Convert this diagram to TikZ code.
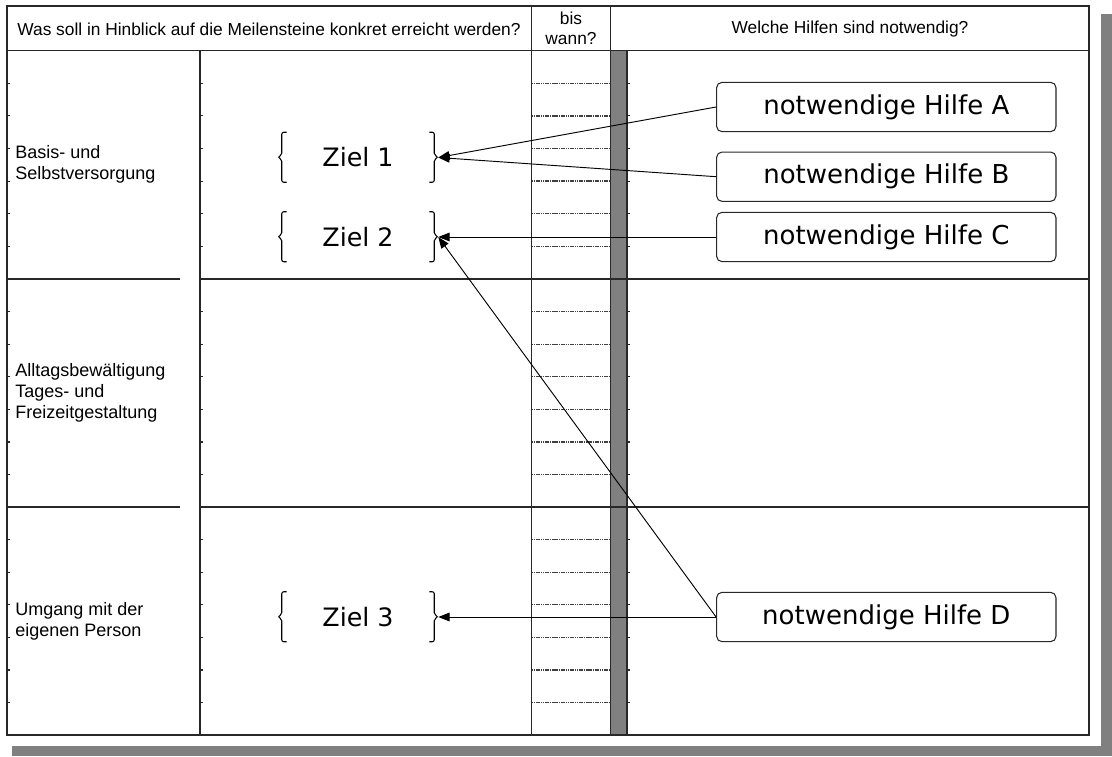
\documentclass[tikz,border=0pt]{standalone}
\usepackage{fontspec}
\setmainfont{Liberation Sans}
\newfontfamily\verdanalike{DejaVu Sans}
\usetikzlibrary{arrows.meta,calc}
\definecolor{shadowgray}{RGB}{128,128,128}
\definecolor{rulegray}{RGB}{40,40,40}

% curly braces on both sides of a goal node
\newcommand\goalbraces[1]{%
  \draw[bracepen] ($(#1.north west)+(9,0)$) -- ++(-5,0) -- ++(0,23) -- ++(-4,2) -- ++(4,2) -- ++(0,23) -- ++(5,0);
  \draw[bracepen] ($(#1.north east)+(-9,0)$) -- ++(5,0) -- ++(0,23) -- ++(4,2) -- ++(-4,2) -- ++(0,23) -- ++(-5,0);}

\begin{document}
\begin{tikzpicture}[x=0.75pt,y=-0.75pt,
  frame/.style={draw=rulegray,line width=0.9pt},
  rowrule/.style={draw=black!75,line width=1pt,dash pattern=on 1.2pt off 0.5pt},
  tick/.style={draw=rulegray,line width=0.8pt},
  hdr/.style={font=\fontsize{13}{15}\selectfont,inner sep=0,align=center},
  area/.style={font=\fontsize{13.5}{15.75}\selectfont,inner sep=0,align=left,anchor=west},
  goal/.style={font=\verdanalike\fontsize{19}{22}\selectfont,inner sep=0,minimum width=120pt,minimum height=37.5pt},
  hilfe/.style={draw=rulegray,line width=0.8pt,rounded corners=4pt,font=\verdanalike\fontsize{19.5}{22}\selectfont,inner sep=0,minimum width=254.5pt,minimum height=37pt},
  bracepen/.style={draw=black,line width=0.8pt,rounded corners=1.5pt},
  link/.style={draw=black,line width=0.7pt,-{Triangle[length=8.5pt,width=6.5pt]}}]

\path[use as bounding box] (0,0) rectangle (1112,756);
\fill[white] (0,0) rectangle (1112,756);
% drop shadow of the sheet
\fill[shadowgray] (12,14) rectangle (1112,756);
\fill[white] (0,0) rectangle (1101,746);

% timeline bar
\fill[shadowgray] (610.5,50.7) rectangle (627,735);

% table frame and columns
\draw[frame] (7,6) rectangle (1089,735);
\draw[frame] (7,50.7) -- (1089,50.7);
\draw[frame] (531.5,6) -- (531.5,735);
\draw[frame] (610.5,6) -- (610.5,735);
\draw[frame] (627,50.7) -- (627,735);
\draw[frame] (200,50.7) -- (200,735);

% row rules and ticks in each section
\foreach \top in {50.7,279,507}{
  \foreach \k in {1,...,6}{
    \pgfmathsetmacro\yy{\top+\k*32.6}
    \draw[rowrule] (531.5,\yy) -- (610.5,\yy);
    \draw[tick] (7,\yy) -- ++(3,0);
    \draw[tick] (200,\yy) -- ++(3,0);
    \draw[tick] (627,\yy) -- ++(3,0);
  }
}
% section separators
\foreach \y in {279,507}{
  \draw[frame] (7,\y) -- (180,\y);
  \draw[frame] (200,\y) -- (1089,\y);
}

% header
\node[hdr] (q1) at (269,29) {Was soll in Hinblick auf die Meilensteine konkret erreicht werden?};
\node[hdr] (q2) at (571,28) {bis\\wann?};
\node[hdr] (q3) at (850,29) {Welche Hilfen sind notwendig?};

% areas
\node[area] (a1) at (15,164.5) {Basis- und\\Selbstversorgung};
\node[area] (a2) at (15,393) {Alltagsbewältigung\\Tages- und\\Freizeitgestaltung};
\node[area] (a3) at (15,621) {Umgang mit der\\eigenen Person};

% goals
\node[goal] (z1) at (358,157.5) {Ziel 1};
\node[goal] (z2) at (358,237) {Ziel 2};
\node[goal] (z3) at (358,617) {Ziel 3};
\goalbraces{z1}
\goalbraces{z2}
\goalbraces{z3}

% required support
\node[hilfe] (hA) at (886.3,107) {notwendige Hilfe A};
\node[hilfe] (hB) at (886.3,176.7) {notwendige Hilfe B};
\node[hilfe] (hC) at (886.3,237) {notwendige Hilfe C};
\node[hilfe] (hD) at (886.3,617) {notwendige Hilfe D};

% links from support to goals
\draw[link] (hA.west) -- (z1.east);
\draw[link] (hB.west) -- (z1.east);
\draw[link] (hC.west) -- (z2.east);
\draw[link] (hD.west) -- (z2.east);
\draw[link] (hD.west) -- (z3.east);
\end{tikzpicture}
\end{document}
